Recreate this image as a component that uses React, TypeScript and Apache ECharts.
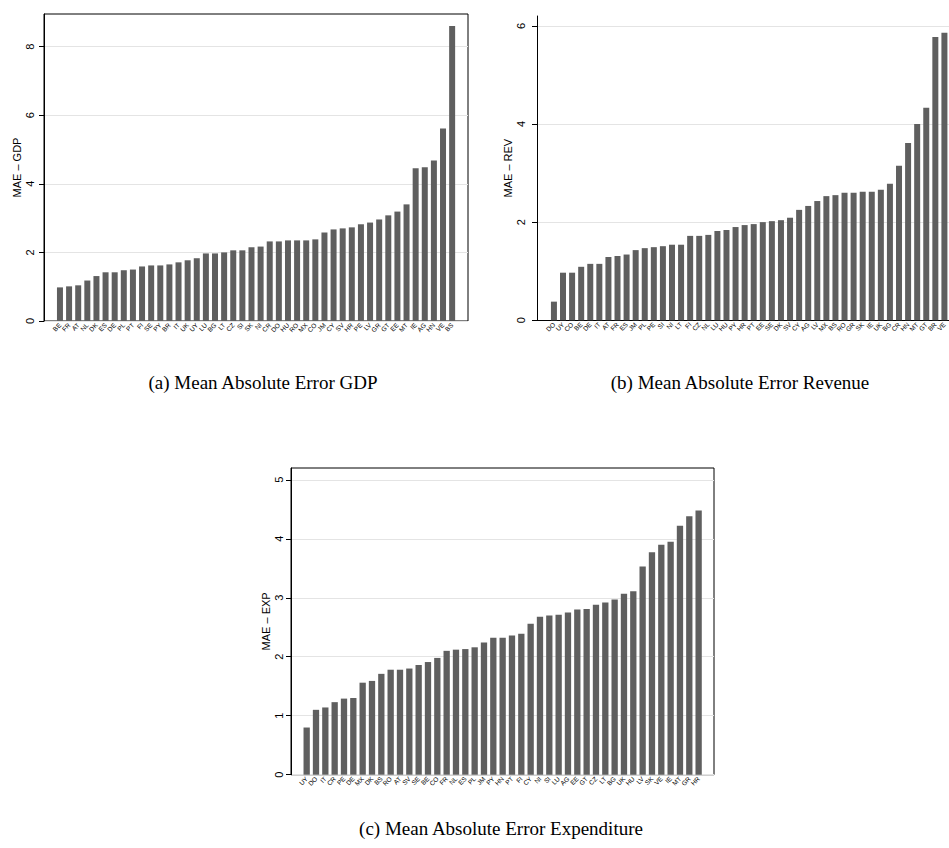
import React, { useEffect, useRef } from "react";
import * as echarts from "echarts";

const gdpCountries = ["BE","FR","AT","NL","DK","ES","DE","PL","PT","FI","SE","PY","BR","IT","UK","UY","LU","BG","LT","CZ","SI","SK","NI","CR","DO","HU","RO","MX","CO","JM","CY","SV","HR","PE","LV","GR","GT","EE","MT","IE","AG","HN","VE","BS"];
const gdpValues = [0.98,1.01,1.04,1.18,1.31,1.42,1.42,1.48,1.5,1.59,1.62,1.62,1.65,1.71,1.77,1.83,1.97,1.97,2.0,2.06,2.06,2.15,2.17,2.32,2.32,2.35,2.35,2.35,2.38,2.58,2.67,2.7,2.73,2.82,2.87,2.96,3.08,3.19,3.4,4.45,4.48,4.68,5.61,8.6];

const revCountries = ["DO","UY","CO","BE","DE","IT","AT","FR","ES","JM","PL","PE","SI","NI","LT","FI","CZ","NL","LU","HU","PY","HR","PT","EE","SE","DK","SV","CY","AG","LV","MX","BS","RO","GR","SK","IE","UK","BG","CR","HN","MT","GT","BR","VE"];
const revValues = [0.38,0.97,0.97,1.09,1.15,1.15,1.29,1.31,1.34,1.43,1.47,1.49,1.51,1.54,1.54,1.72,1.72,1.74,1.82,1.84,1.9,1.94,1.96,2.0,2.02,2.04,2.09,2.25,2.33,2.43,2.53,2.55,2.6,2.6,2.62,2.62,2.66,2.78,3.15,3.61,4.0,4.33,5.77,5.86];

const expCountries = ["UY","DO","IT","CR","PE","DE","MX","DK","BS","RO","AT","SV","SE","BE","CO","FR","NL","ES","PL","JM","PY","HN","PT","FI","CY","NI","SI","LU","AG","EE","GT","CZ","LT","BG","UK","HU","LV","SK","VE","IE","MT","GR","HR"];
const expValues = [0.8,1.1,1.14,1.23,1.29,1.3,1.56,1.59,1.71,1.78,1.78,1.8,1.86,1.91,1.98,2.1,2.12,2.13,2.16,2.24,2.32,2.32,2.36,2.39,2.56,2.68,2.7,2.71,2.75,2.8,2.81,2.88,2.92,2.97,3.07,3.11,3.53,3.77,3.9,3.95,4.22,4.38,4.48];

const gdpTicks = [0, 2, 4, 6, 8];
const revTicks = [0, 2, 4, 6];
const expTicks = [0, 1, 2, 3, 4, 5];

const titles = [
  "(a) Mean Absolute Error GDP",
  "(b) Mean Absolute Error Revenue",
  "(c) Mean Absolute Error Expenditure",
];

const SANS = "Liberation Sans, Arial, sans-serif";
const SERIF = "Liberation Serif, Times New Roman, serif";
const BAR = "#5f5f5f";
const GRIDC = "#e4e4e4";

function frameY(grid: number, max: number, interval: number, ticks: number[], name: string, nameGap: number) {
  return {
    gridIndex: grid,
    type: "value",
    min: 0,
    max,
    interval,
    name,
    nameLocation: "middle",
    nameGap,
    nameRotate: 90,
    nameTextStyle: { fontSize: 11, fontFamily: SANS, color: "#000" },
    axisLine: { show: true, lineStyle: { color: "#000", width: 1 } },
    axisTick: { show: true, length: 5, lineStyle: { color: "#000" }, customValues: ticks },
    axisLabel: { show: false },
    splitLine: { show: true, lineStyle: { color: GRIDC, width: 1 } },
  };
}

function hiddenY(grid: number, max: number) {
  return { gridIndex: grid, type: "value", min: 0, max, show: false };
}

function catX(grid: number, data: string[]) {
  return {
    gridIndex: grid,
    type: "category",
    data,
    axisLine: { show: false },
    axisTick: { show: false },
    axisLabel: { interval: 0, rotate: 45, fontSize: 6.5, margin: 3, fontFamily: SANS, color: "#000" },
    splitLine: { show: false },
  };
}

function title(text: string, x: number, y: number) {
  return { type: "text", x, y, style: { text, fontSize: 19, fontFamily: SERIF, fill: "#000", textAlign: "center", textVerticalAlign: "middle" } };
}

export default function App() {
  const ref = useRef<HTMLDivElement>(null);
  useEffect(() => {
    if (!ref.current) return;
    const chart = echarts.init(ref.current, null, { renderer: "svg" });
    const option: any = {
      animation: false,
      backgroundColor: "#fff",
      grid: [
        { left: 44, top: 14, width: 424, height: 307, show: true, borderColor: "#000", borderWidth: 1, backgroundColor: "transparent" },
        { left: 55.4, top: 14, width: 401.3, height: 307 },
        { left: 537, top: 16, width: 430, height: 304.3, show: false },
        { left: 549.4, top: 16, width: 400.8, height: 304.3 },
        { left: 291, top: 468, width: 423, height: 306.7, show: true, borderColor: "#000", borderWidth: 1, backgroundColor: "transparent" },
        { left: 302, top: 468, width: 401.3, height: 306.7 },
      ],
      xAxis: [
        { gridIndex: 0, type: "value", min: 0, max: 1, show: false },
        catX(1, gdpCountries),
        { gridIndex: 2, type: "value", min: 0, max: 1, axisLine: { show: true, lineStyle: { color: "#000" } }, axisTick: { show: false }, axisLabel: { show: false }, splitLine: { show: false } },
        catX(3, revCountries),
        { gridIndex: 4, type: "value", min: 0, max: 1, show: false },
        catX(5, expCountries),
      ],
      yAxis: [
        frameY(0, 8.95, 2, gdpTicks, "MAE – GDP", 22),
        hiddenY(1, 8.95),
        frameY(2, 6.2, 2, revTicks, "MAE – REV", 24),
        hiddenY(3, 6.2),
        frameY(4, 5.2, 1, expTicks, "MAE – EXP", 20),
        hiddenY(5, 5.2),
      ],
      series: [
        { type: "bar", xAxisIndex: 1, yAxisIndex: 1, data: gdpValues, barWidth: 6, itemStyle: { color: BAR } },
        { type: "bar", xAxisIndex: 3, yAxisIndex: 3, data: revValues, barWidth: 6, itemStyle: { color: BAR } },
        { type: "bar", xAxisIndex: 5, yAxisIndex: 5, data: expValues, barWidth: 6.3, itemStyle: { color: BAR } },
      ],
    };
    chart.setOption(option);

    // rotated y tick labels, positioned through the axes' own scales
    const tickLabels: any[] = [];
    const addLabels = (axisIdx: number, ticks: number[], x: number) => {
      ticks.forEach((v) => {
        const y = chart.convertToPixel({ yAxisIndex: axisIdx } as any, v) as unknown as number;
        tickLabels.push({
          type: "text",
          x,
          y,
          rotation: Math.PI / 2,
          style: { text: String(v), fontSize: 11, fontFamily: SANS, fill: "#000", textAlign: "center", textVerticalAlign: "middle" },
        });
      });
    };
    addLabels(0, gdpTicks, 30);
    addLabels(2, revTicks, 521);
    addLabels(4, expTicks, 279);

    chart.setOption({
      graphic: [
        title(titles[0], 263, 382),
        title(titles[1], 740, 382),
        title(titles[2], 501, 828),
        ...tickLabels,
      ],
    });
    return () => chart.dispose();
  }, []);
  return <div ref={ref} style={{ position: "absolute", left: 0, top: 0, width: 949, height: 848 }} />;
}
